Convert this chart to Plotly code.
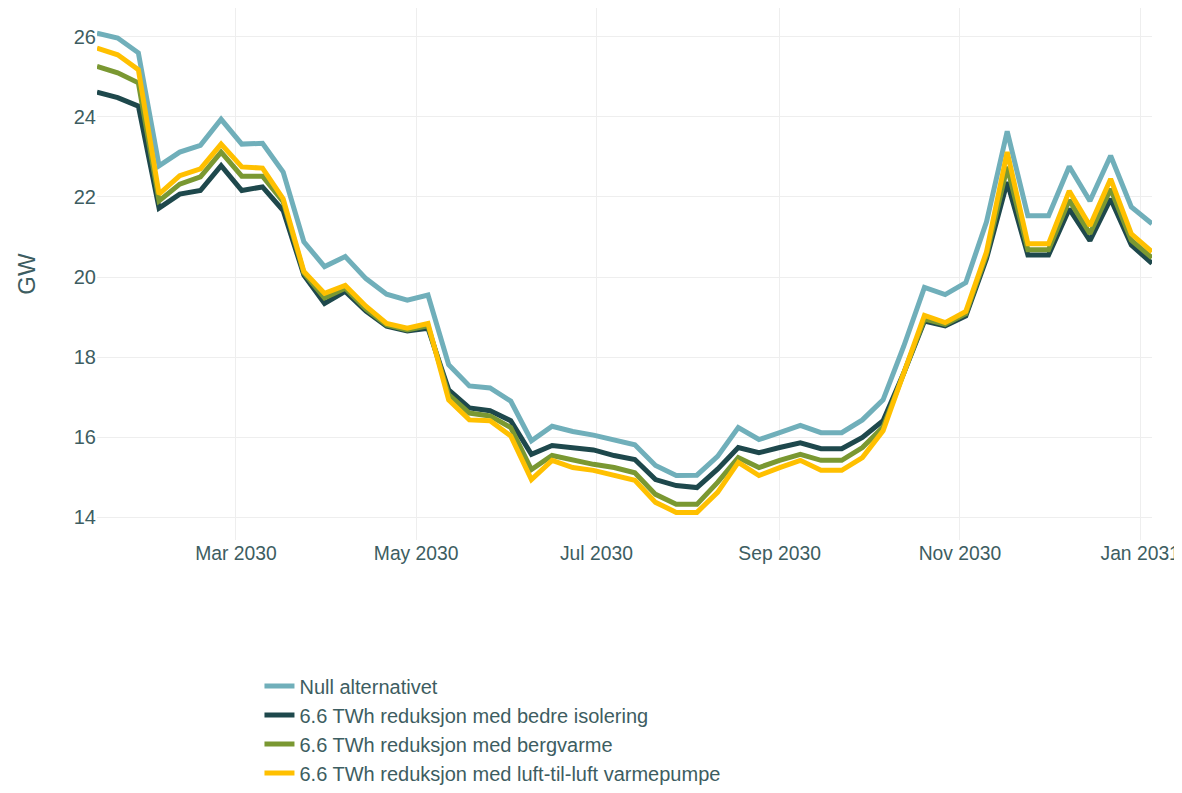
import pandas as pd
import plotly.graph_objects as go

# weekly values, GW (week ending Sunday)
weeks = pd.date_range("2030-01-13", periods=52, freq="W-SUN")

null_alt = [26.09, 25.97, 25.6, 22.78, 23.12, 23.29, 23.94, 23.32, 23.34, 22.62,
            20.88, 20.26, 20.51, 19.96, 19.57, 19.42, 19.55, 17.81, 17.28, 17.23,
            16.9, 15.91, 16.27, 16.14, 16.05, 15.94, 15.81, 15.29, 15.04, 15.05,
            15.52, 16.24, 15.94, 16.11, 16.29, 16.11, 16.11, 16.43, 16.93, 18.27,
            19.74, 19.56, 19.86, 21.38, 23.64, 21.53, 21.53, 22.76, 21.9, 23.03,
            21.75, 21.33]

isolering = [24.62, 24.48, 24.27, 21.72, 22.07, 22.16, 22.78, 22.16, 22.25, 21.66,
             20.05, 19.34, 19.64, 19.15, 18.77, 18.65, 18.72, 17.18, 16.73, 16.66,
             16.41, 15.57, 15.79, 15.74, 15.68, 15.54, 15.44, 14.94, 14.79, 14.74,
             15.2, 15.74, 15.61, 15.74, 15.86, 15.71, 15.71, 15.99, 16.41, 17.6,
             18.9, 18.78, 19.03, 20.46, 22.37, 20.55, 20.55, 21.7, 20.91, 21.95,
             20.8, 20.34]

bergvarme = [25.26, 25.1, 24.85, 21.9, 22.32, 22.5, 23.12, 22.52, 22.52, 21.88,
             20.1, 19.48, 19.72, 19.2, 18.8, 18.68, 18.78, 17.06, 16.6, 16.53,
             16.24, 15.19, 15.54, 15.42, 15.32, 15.24, 15.11, 14.57, 14.32, 14.32,
             14.87, 15.49, 15.24, 15.42, 15.57, 15.42, 15.42, 15.74, 16.25, 17.6,
             18.95, 18.82, 19.08, 20.55, 22.75, 20.68, 20.68, 21.92, 21.08, 22.2,
             20.92, 20.48]

luft_til_luft = [25.72, 25.55, 25.18, 22.07, 22.53, 22.7, 23.32, 22.75, 22.72, 21.95,
                 20.14, 19.59, 19.79, 19.27, 18.84, 18.72, 18.84, 16.93, 16.43, 16.41,
                 16.03, 14.94, 15.42, 15.24, 15.17, 15.04, 14.92, 14.37, 14.12, 14.12,
                 14.62, 15.37, 15.04, 15.24, 15.42, 15.17, 15.17, 15.49, 16.16, 17.6,
                 19.04, 18.86, 19.14, 20.63, 23.12, 20.83, 20.83, 22.15, 21.28, 22.45,
                 21.08, 20.63]

series = [
    ("Null alternativet", null_alt, "#70afba"),
    ("6.6 TWh reduksjon med bedre isolering", isolering, "#1e484c"),
    ("6.6 TWh reduksjon med bergvarme", bergvarme, "#7a9832"),
    ("6.6 TWh reduksjon med luft-til-luft varmepumpe", luft_til_luft, "#ffc000"),
]

text_color = "#3d5d61"
grid_color = "#eeeeee"

fig = go.Figure()
for name, values, color in series:
    fig.add_trace(go.Scatter(x=weeks, y=values, name=name, mode="lines",
                             line=dict(color=color, width=5)))

# page body has an 8px margin, so the figure is a bit smaller than the window
fig.update_layout(
    width=1174,
    height=785,
    template="plotly_white",
    font=dict(family="Liberation Sans, Arial, sans-serif", size=20, color=text_color),
    margin=dict(l=89, r=30, t=0, b=250),
    plot_bgcolor="white",
    paper_bgcolor="white",
    legend=dict(x=0.154, y=-0.238, xanchor="left", yanchor="top",
                orientation="v", font=dict(size=20, color=text_color)),
)
fig.update_xaxes(dtick="M2", tick0="2030-01-01", tickformat="%b %Y",
                 tickfont=dict(size=19.3), gridcolor=grid_color,
                 showline=False, zeroline=False, automargin=False)
fig.update_yaxes(title_text="GW", title_standoff=31, dtick=2, range=[13.43, 26.72],
                 gridcolor=grid_color, showline=False, zeroline=False,
                 automargin=False)

fig.write_html("out.html")
